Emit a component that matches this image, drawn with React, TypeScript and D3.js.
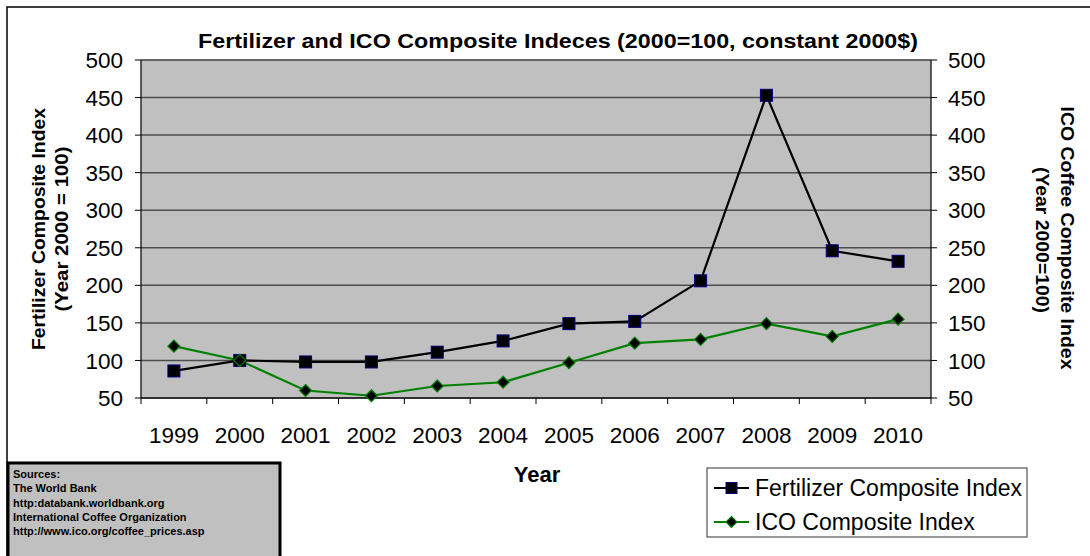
import React from "react";
import * as d3 from "d3";

const years = ["1999", "2000", "2001", "2002", "2003", "2004", "2005", "2006", "2007", "2008", "2009", "2010"];
const fertilizer = [86, 100, 98, 98, 111, 126, 149, 152, 206, 453, 246, 232];
const ico = [119, 100, 60, 53, 66, 71, 97, 123, 128, 149, 132, 155];
const yTicks = [50, 100, 150, 200, 250, 300, 350, 400, 450, 500];
const sources = [
  "Sources:",
  "The World Bank",
  "http:databank.worldbank.org",
  "International Coffee Organization",
  "http://www.ico.org/coffee_prices.asp",
];

const W = 1090;
const H = 556;
const FONT = "Liberation Sans, Arial, sans-serif";

export default function App() {
  // plot area
  const left = 141;
  const right = 931;
  const top = 60;
  const bottom = 398;

  const x = d3.scaleBand().domain(years).range([left, right]);
  const y = d3.scaleLinear().domain([50, 500]).range([bottom, top]);
  const cx = (d: string) => (x(d) as number) + x.bandwidth() / 2;

  const line = d3
    .line<number>()
    .x((_, i) => cx(years[i]))
    .y((d) => y(d));

  const diamond = (px: number, py: number, r: number) =>
    `M${px},${py - r}L${px + r},${py}L${px},${py + r}L${px - r},${py}Z`;

  const boundaries = years.map((d) => x(d) as number).concat([right]);

  return (
    <svg
      width={W}
      height={H}
      style={{ position: "absolute", left: 0, top: 0, background: "#fff" }}
      fontFamily={FONT}
    >
      {/* outer chart frame */}
      <rect x={7} y={7} width={W + 20} height={H + 20} fill="#fff" stroke="#000" strokeWidth={1.5} />

      {/* plot background */}
      <rect x={left} y={top} width={right - left} height={bottom - top} fill="#c0c0c0" stroke="#808080" strokeWidth={1} />

      {/* gridlines */}
      {yTicks.map((t) => (
        <line key={"g" + t} x1={left} x2={right} y1={y(t)} y2={y(t)} stroke="#4d4d4d" strokeWidth={1.5} />
      ))}

      {/* left axis */}
      <line x1={left} x2={left} y1={top} y2={bottom} stroke="#000" strokeWidth={1} />
      {yTicks.map((t) => (
        <g key={"l" + t}>
          <line x1={left - 6} x2={left} y1={y(t)} y2={y(t)} stroke="#000" />
          <text x={123} y={y(t)} dy="0.36em" textAnchor="end" fontSize={22.5}>
            {t}
          </text>
        </g>
      ))}

      {/* right axis */}
      <line x1={right} x2={right} y1={top} y2={bottom} stroke="#000" strokeWidth={1} />
      {yTicks.map((t) => (
        <g key={"r" + t}>
          <line x1={right} x2={right + 6} y1={y(t)} y2={y(t)} stroke="#000" />
          <text x={948} y={y(t)} dy="0.36em" textAnchor="start" fontSize={22.5}>
            {t}
          </text>
        </g>
      ))}

      {/* x axis */}
      <line x1={left} x2={right} y1={bottom} y2={bottom} stroke="#000" strokeWidth={1} />
      {boundaries.map((b, i) => (
        <line key={"xt" + i} x1={b} x2={b} y1={bottom} y2={bottom + 6} stroke="#000" />
      ))}
      {years.map((d) => (
        <text key={"xl" + d} x={cx(d)} y={443} textAnchor="middle" fontSize={22.5}>
          {d}
        </text>
      ))}

      {/* series */}
      <path d={line(fertilizer) as string} fill="none" stroke="#000" strokeWidth={2.2} />
      <path d={line(ico) as string} fill="none" stroke="#008000" strokeWidth={2.2} />
      {fertilizer.map((v, i) => (
        <rect key={"fm" + i} x={cx(years[i]) - 6} y={y(v) - 6} width={12} height={12} fill="#000" stroke="#000080" strokeWidth={1} />
      ))}
      {ico.map((v, i) => (
        <path key={"im" + i} d={diamond(cx(years[i]), y(v), 6)} fill="#000" stroke="#008000" strokeWidth={1.2} />
      ))}

      {/* title */}
      <text x={558} y={48} textAnchor="middle" fontSize={21} fontWeight="bold" textLength={720} lengthAdjust="spacingAndGlyphs">
        Fertilizer and ICO Composite Indeces (2000=100, constant 2000$)
      </text>

      {/* axis titles */}
      <text transform="translate(45,229) rotate(-90)" textAnchor="middle" fontSize={17.5} fontWeight="bold" textLength={242} lengthAdjust="spacingAndGlyphs">
        Fertilizer Composite Index
      </text>
      <text transform="translate(68,229) rotate(-90)" textAnchor="middle" fontSize={17.5} fontWeight="bold" textLength={165} lengthAdjust="spacingAndGlyphs">
        (Year 2000 = 100)
      </text>
      <text transform="translate(1061,238) rotate(90)" textAnchor="middle" fontSize={17.5} fontWeight="bold" textLength={263} lengthAdjust="spacingAndGlyphs">
        ICO Coffee Composite Index
      </text>
      <text transform="translate(1036,240) rotate(90)" textAnchor="middle" fontSize={17.5} fontWeight="bold" textLength={146} lengthAdjust="spacingAndGlyphs">
        (Year 2000=100)
      </text>
      <text x={537} y={482} textAnchor="middle" fontSize={22} fontWeight="bold">
        Year
      </text>

      {/* sources box */}
      <rect x={8} y={463} width={272} height={110} fill="#c0c0c0" stroke="#000" strokeWidth={3} />
      {sources.map((s, i) => (
        <text key={"s" + i} x={13} y={478 + i * 14.3} fontSize={11} fontWeight="bold">
          {s}
        </text>
      ))}

      {/* legend */}
      <rect x={707} y={468} width={320} height={69} fill="#fff" stroke="#555" strokeWidth={1.2} />
      <line x1={714} x2={749} y1={488} y2={488} stroke="#000" strokeWidth={2.2} />
      <rect x={726} y={482.5} width={11} height={11} fill="#000" stroke="#000080" />
      <text x={755} y={496} fontSize={23} textLength={267} lengthAdjust="spacingAndGlyphs">
        Fertilizer Composite Index
      </text>
      <line x1={714} x2={749} y1={522} y2={522} stroke="#008000" strokeWidth={2.2} />
      <path d={diamond(731.5, 522, 5.5)} fill="#000" stroke="#008000" strokeWidth={1.2} />
      <text x={755} y={530} fontSize={23}>
        ICO Composite Index
      </text>
    </svg>
  );
}
